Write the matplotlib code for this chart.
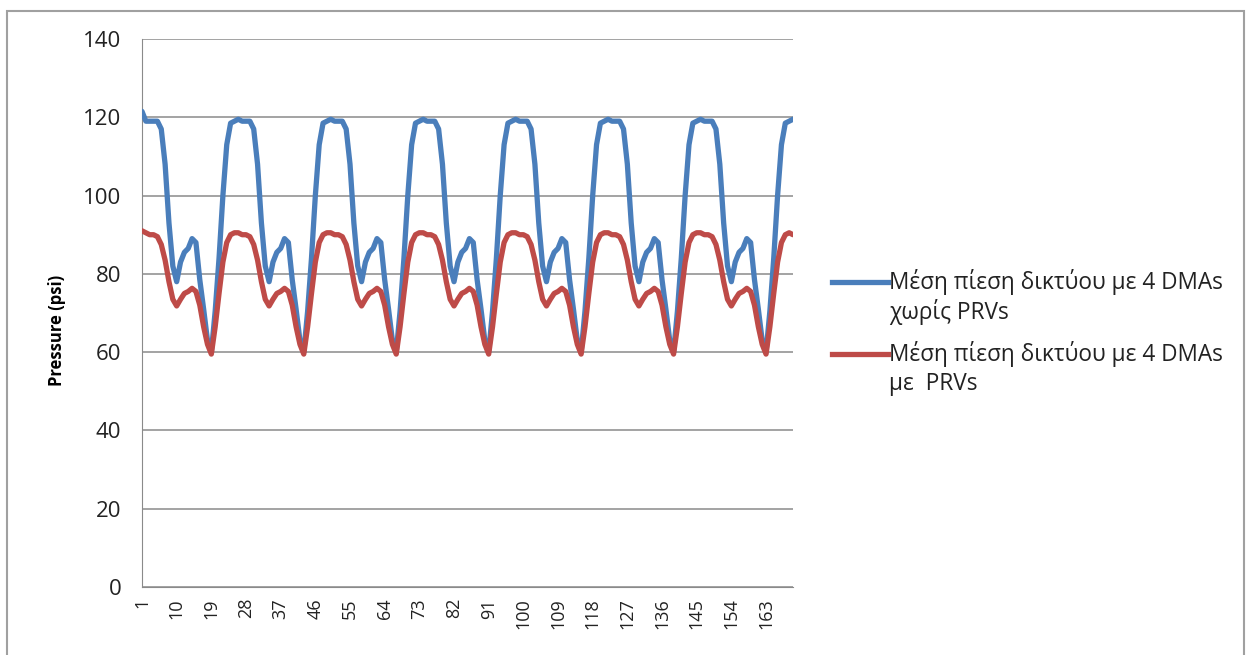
import numpy as np
import matplotlib
matplotlib.use('Agg')
import matplotlib.pyplot as plt
from matplotlib.lines import Line2D
from matplotlib.patches import Rectangle

plt.rcParams['font.family'] = ['Open Sans', 'DejaVu Sans']

# hourly average network pressure (psi), 7 days + 2 hours
hours = list(range(1, 171))

pressure_no_prv = (
    [121.5, 119, 119, 119, 119, 117, 108, 93, 82, 78, 83, 85.5, 86.5, 89, 88, 78.5, 71, 63, 60, 70.5, 84, 100, 113, 118.5] +
    [119, 119.5, 119, 119, 119, 117, 108, 93, 82, 78, 83, 85.5, 86.5, 89, 88, 78.5, 71, 63, 60, 70.5, 84, 100, 113, 118.5] +
    [119, 119.5, 119, 119, 119, 117, 108, 93, 82, 78, 83, 85.5, 86.5, 89, 88, 78.5, 71, 63, 60, 70.5, 84, 100, 113, 118.5] +
    [119, 119.5, 119, 119, 119, 117, 108, 93, 82, 78, 83, 85.5, 86.5, 89, 88, 78.5, 71, 63, 60, 70.5, 84, 100, 113, 118.5] +
    [119, 119.5, 119, 119, 119, 117, 108, 93, 82, 78, 83, 85.5, 86.5, 89, 88, 78.5, 71, 63, 60, 70.5, 84, 100, 113, 118.5] +
    [119, 119.5, 119, 119, 119, 117, 108, 93, 82, 78, 83, 85.5, 86.5, 89, 88, 78.5, 71, 63, 60, 70.5, 84, 100, 113, 118.5] +
    [119, 119.5, 119, 119, 119, 117, 108, 93, 82, 78, 83, 85.5, 86.5, 89, 88, 78.5, 71, 63, 60, 70.5, 84, 100, 113, 118.5] +
    [119, 119.5]
)

pressure_prv = (
    [91, 90.5, 90, 90, 89.5, 87.5, 83.5, 78, 73.5, 71.8, 73.5, 75, 75.5, 76.3, 75.5, 72, 66.5, 62, 59.5, 66.5, 75, 83, 88, 90] +
    [90.5, 90.5, 90, 90, 89.5, 87.5, 83.5, 78, 73.5, 71.8, 73.5, 75, 75.5, 76.3, 75.5, 72, 66.5, 62, 59.5, 66.5, 75, 83, 88, 90] +
    [90.5, 90.5, 90, 90, 89.5, 87.5, 83.5, 78, 73.5, 71.8, 73.5, 75, 75.5, 76.3, 75.5, 72, 66.5, 62, 59.5, 66.5, 75, 83, 88, 90] +
    [90.5, 90.5, 90, 90, 89.5, 87.5, 83.5, 78, 73.5, 71.8, 73.5, 75, 75.5, 76.3, 75.5, 72, 66.5, 62, 59.5, 66.5, 75, 83, 88, 90] +
    [90.5, 90.5, 90, 90, 89.5, 87.5, 83.5, 78, 73.5, 71.8, 73.5, 75, 75.5, 76.3, 75.5, 72, 66.5, 62, 59.5, 66.5, 75, 83, 88, 90] +
    [90.5, 90.5, 90, 90, 89.5, 87.5, 83.5, 78, 73.5, 71.8, 73.5, 75, 75.5, 76.3, 75.5, 72, 66.5, 62, 59.5, 66.5, 75, 83, 88, 90] +
    [90.5, 90.5, 90, 90, 89.5, 87.5, 83.5, 78, 73.5, 71.8, 73.5, 75, 75.5, 76.3, 75.5, 72, 66.5, 62, 59.5, 66.5, 75, 83, 88, 90] +
    [90.5, 90]
)

label_no_prv = ['Μέση πίεση δικτύου με 4 DMAs', 'χωρίς PRVs']
label_prv = ['Μέση πίεση δικτύου με 4 DMAs', 'με  PRVs']
xticks = list(range(1, 164, 9))
yticks = list(range(0, 141, 20))

blue = '#4A7EBB'
red = '#BE4B48'

W, H = 1253, 655
fig = plt.figure(figsize=(W/100, H/100), dpi=100)
ax = fig.add_axes([142/W, 1-587/H, (793-142)/W, (587-39)/H])

ax.plot(hours, pressure_no_prv, color=blue, lw=3.8, solid_capstyle='round', solid_joinstyle='round', zorder=3)
ax.plot(hours, pressure_prv, color=red, lw=3.8, solid_capstyle='round', solid_joinstyle='round', zorder=4)

ax.set_xlim(1, 170)
ax.set_ylim(0, 140)
ax.set_xticks(xticks)
ax.set_xticklabels([str(t) for t in xticks], rotation=90, fontsize=13, color='#222222')
ax.set_yticks(yticks)
ax.set_yticklabels([str(t) for t in yticks], fontsize=16, color='#222222')
ax.tick_params(axis='both', length=0)
ax.tick_params(axis='y', pad=15)
ax.tick_params(axis='x', pad=8)
ax.grid(axis='y', color='#8a8a8a', lw=1.1)
ax.set_axisbelow(True)
for s in ['top', 'right']:
    ax.spines[s].set_visible(False)
ax.spines['left'].set_color('#8a8a8a')
ax.spines['bottom'].set_color('#8a8a8a')
ax.set_ylabel('Pressure (psi)', fontsize=12, fontweight='bold')
ax.yaxis.set_label_coords(-0.116, 0.469)

# legend drawn by hand so the line sits on the first text row
for y0, col, lab in [(282, blue, label_no_prv), (354, red, label_prv)]:
    fig.add_artist(Line2D([832/W, 888/W], [1-y0/H, 1-y0/H], color=col, lw=3.8, transform=fig.transFigure))
    fig.text(889/W, 1-y0/H, lab[0], fontsize=16.3, va='center', ha='left', color='#222222')
    fig.text(889/W, 1-(y0+30)/H, lab[1], fontsize=16.3, va='center', ha='left', color='#222222')

fig.add_artist(Rectangle((7/W, -0.05), (1244-7)/W, 1.05-11/H, fill=False, ec='#a0a0a0', lw=1.5, transform=fig.transFigure))

fig.savefig('out.png', dpi=100)
plt.close()
